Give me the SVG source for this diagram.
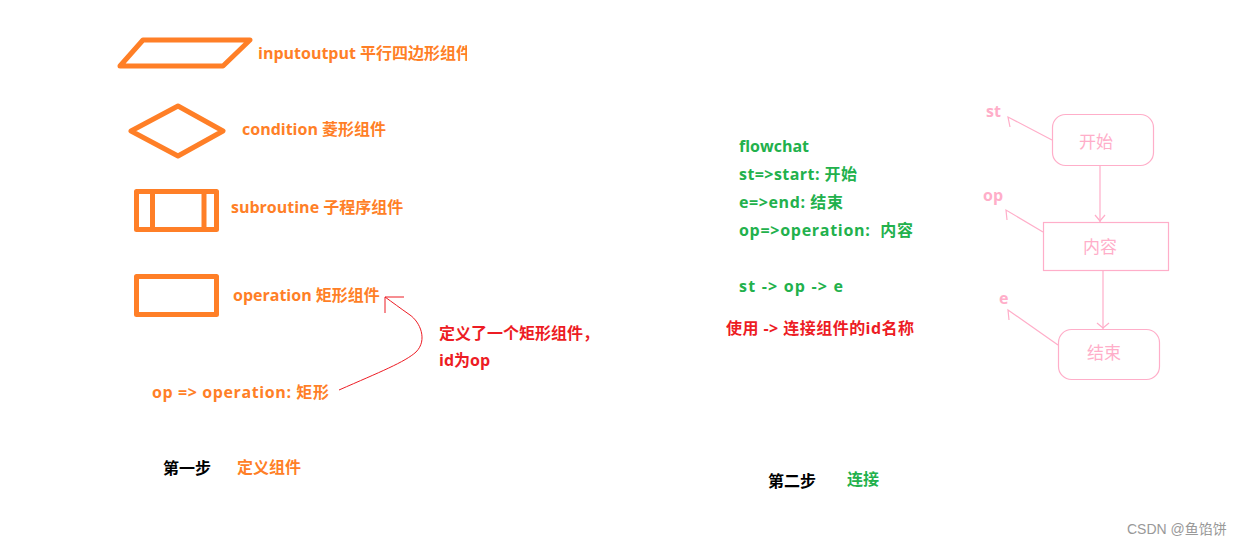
<svg xmlns="http://www.w3.org/2000/svg" width="1241" height="545" viewBox="0 0 1241 545">
<style>
text{font-family:"Open Sans","Noto Sans CJK SC",sans-serif;font-size:16px;font-weight:bold}
.o{fill:#FF7F27}.g{fill:#22B14C}.r{fill:#ED1C24}.k{fill:#000}.p{fill:#FFAEC9}
.os{fill:none;stroke:#FF7F27;stroke-width:5;stroke-linejoin:round}
.ps{fill:none;stroke:#FFAEC9;stroke-width:1.2}
.rs{fill:none;stroke:#ED1C24;stroke-width:1}
.pt{font-weight:normal;font-size:17px;text-anchor:middle}
</style>
<defs><clipPath id="cut"><rect x="0" y="0" width="467" height="545"/></clipPath></defs>
<rect width="1241" height="545" fill="#fff"/>
<g id="inputoutput">
<polygon class="os" points="143,40 250,40 223,66 120,66"/>
<text class="o" x="258" y="59" clip-path="url(#cut)">inputoutput 平行四边形组件</text>
</g>
<g id="condition">
<polygon class="os" points="131,131 178,106 223,131 178,156"/>
<text class="o" x="242" y="135">condition 菱形组件</text>
</g>
<g id="subroutine">
<rect class="os" x="136.5" y="191.5" width="80" height="38"/>
<line class="os" x1="152.5" y1="191" x2="152.5" y2="232"/>
<line class="os" x1="204" y1="191" x2="204" y2="230"/>
<text class="o" x="231" y="213">subroutine 子程序组件</text>
</g>
<g id="operation">
<rect class="os" x="136.5" y="276.5" width="80" height="38"/>
<text class="o" x="233" y="301">operation 矩形组件</text>
</g>
<g id="connectors">
<path class="rs" d="M339,390 C380,372 405,362 416,352 C428,340 420,322 410,315 C400,308 392,302 385,297"/>
<line class="rs" x1="385" y1="297" x2="404" y2="297"/>
<line class="rs" x1="385" y1="297" x2="385" y2="313"/>
<line class="ps" x1="1100" y1="166" x2="1100" y2="222"/>
<polyline class="ps" points="1095,215 1100,221 1105,215"/>
<line class="ps" x1="1103" y1="271" x2="1103" y2="329"/>
<polyline class="ps" points="1097,323 1103,328 1109,323"/>
<polyline class="ps" points="1052,140 1008,117 1010,127"/>
<polyline class="ps" points="1043,232 1006,210 1007,220"/>
<polyline class="ps" points="1058,345 1008,310 1009,320"/>
</g>
<g id="note">
<text class="r" x="439" y="339">定义了一个矩形组件，</text>
<text class="r" x="439" y="366">id为op</text>
</g>
<g id="op-def">
<text class="o" x="152" y="398" textLength="177" lengthAdjust="spacing">op =&gt; operation: 矩形</text>
</g>
<g id="step1">
<text class="k" x="163" y="474">第一步</text>
<text class="o" x="237" y="473">定义组件</text>
</g>
<g id="code">
<text class="g" x="739" y="152">flowchat</text>
<text class="g" x="739" y="180" textLength="118" lengthAdjust="spacing">st=&gt;start: 开始</text>
<text class="g" x="739" y="208" textLength="104" lengthAdjust="spacing">e=&gt;end: 结束</text>
<text class="g" x="739" y="236" xml:space="preserve" textLength="174" lengthAdjust="spacing">op=&gt;operation:  内容</text>
<text class="g" x="739" y="292" textLength="104" lengthAdjust="spacing">st -&gt; op -&gt; e</text>
<text class="r" x="726" y="334" textLength="188" lengthAdjust="spacing">使用 -&gt; 连接组件的id名称</text>
</g>
<g id="step2">
<text class="k" x="768" y="487">第二步</text>
<text class="g" x="847" y="485">连接</text>
</g>
<g id="st">
<rect class="ps" x="1052.5" y="114.5" width="101" height="51" rx="13"/>
<text class="p pt" x="1096" y="148">开始</text>
<text class="p" x="986" y="117">st</text>
</g>
<g id="op">
<rect class="ps" x="1043.5" y="222.5" width="125" height="48"/>
<text class="p pt" x="1100" y="253">内容</text>
<text class="p" x="983" y="201">op</text>
</g>
<g id="e">
<rect class="ps" x="1058.5" y="329.5" width="101" height="50" rx="13"/>
<text class="p pt" x="1104" y="359">结束</text>
<text class="p" x="999" y="304">e</text>
</g>
<g id="watermark">
<text x="1127" y="534" style="font-family:'Liberation Sans','Noto Sans CJK SC',sans-serif;font-weight:normal;font-size:14px;fill:#999">CSDN @鱼馅饼</text>
</g>
</svg>
